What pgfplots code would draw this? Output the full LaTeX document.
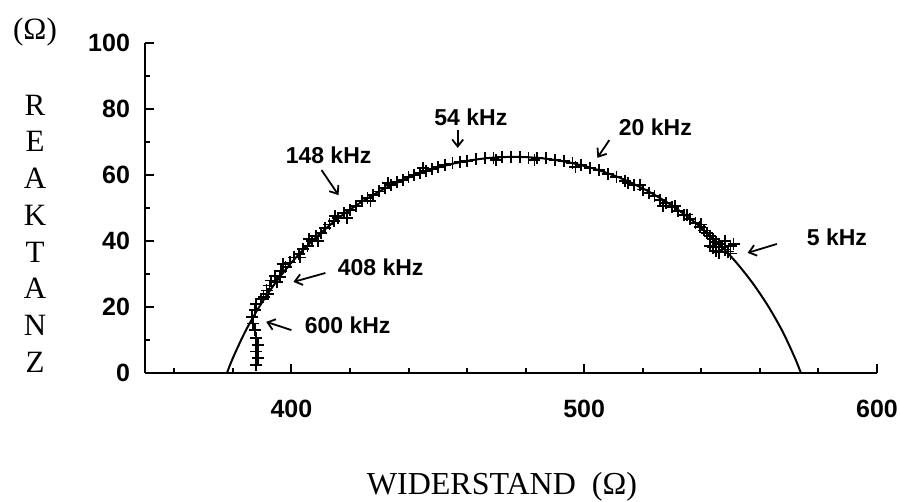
\documentclass[border=0pt]{standalone}
\usepackage{fontspec}
\setmainfont{Liberation Serif}
\setsansfont{Liberation Sans}
\usepackage{pgfplots}
\pgfplotsset{compat=1.18}
\usetikzlibrary{arrows.meta}
\newcommand{\annot}{\sffamily\bfseries\fontsize{11.5}{13}\selectfont}
\begin{document}
\begin{tikzpicture}
\begin{axis}[
  scale only axis, width=366pt, height=165pt,
  xmin=350, xmax=600, ymin=0, ymax=100,
  axis x line=bottom, axis y line=left,
  axis line style={-, line width=1.3pt},
  xtick={400,500,600}, minor xtick={360,380,420,440,460,480,520,540,560,580},
  ytick={0,20,40,60,80,100}, minor ytick={10,30,50,70,90},
  tick align=inside,
  major tick length=4.5pt, minor tick length=2.5pt,
  tick style={line width=1pt, black},
  ticklabel style={font=\sffamily\bfseries\fontsize{12.5}{14}\selectfont},
  /pgf/number format/assume math mode=true,
  xticklabel style={yshift=-10pt},
  yticklabel style={xshift=-4pt},
  clip=false,
]
\addplot[black, line width=1pt, smooth] coordinates {
(378.0,0) (379.9,4.30) (384.2,12.5) (389.2,20.30) (394.8,27.64) (401.0,34.45)
(407.9,40.70) (415.2,46.34) (423.0,51.30) (431.2,55.57) (439.7,59.11) (448.6,61.89)
(457.6,63.89) (466.8,65.10) (476,65.5) (485.2,65.10) (494.4,63.89) (503.4,61.89)
(512.3,59.11) (520.8,55.57) (529.0,51.30) (536.8,46.34) (544.1,40.70) (551.0,34.45)
(557.2,27.64) (562.8,20.30) (567.8,12.5) (572.1,4.30) (574.0,0)
};
\addplot[only marks, mark=+, mark size=3pt, mark options={line width=0.9pt, black}] coordinates {
(388,2.5) (388.5,4.5) (388,6.5) (388.5,8.5) (388,10.5) (387.5,13) (387,15) (386.5,17)
(387.5,19) (388,21) (389.5,22.5) (390.5,23) (391.5,25) (392.5,26.5) (393,28) (394.5,29.5)
(396,29) (396.5,31) (398,32) (399.5,33.5) (401,35) (402.5,36) (404,37.5) (405.5,38.5)
(407,40) (408.5,41.5) (410,42.5) (411.5,44) (413,45) (414.5,46) (416,47) (418,48.5)
(420,49.5) (422,50.5) (424,52) (426,53) (428,54) (430,55) (432,56) (434,57)
(436,57.8) (438,58.5) (440,59.3) (442,60) (444,60.6) (446,61.3) (448,61.8) (450,62.4)
(452.5,63) (455,63.5) (457.5,64) (460,64.3) (463,64.7) (466,65) (469,65.2) (472,65.4)
(475,65.5) (478,65.4) (481,65.3) (484,65.2) (487,65) (490,64.6) (493,64.2) (496,63.6)
(499,63) (502,62.2) (505,61.4) (508,60.4) (511,59.3) (514,58.2) (517,56.9) (520,55.6)
(522,54.6) (524,53.6) (526,52.5) (528,51.4) (530,50.2) (532,49) (534,47.8) (536,46.6)
(538,45.4) (539.5,44.3) (541,43.2) (542,42.4) (543,41.5) (544,40.5) (545,39.8) (546,39)
(547,38.2) (548,37.4) (549,36.8) (550,36.2) (544,38) (548,40) (546,36.5) (550,38.5)
(392,24) (395,27.5) (397,33) (403,35) (406,40.5) (409,40) (415,47.5) (419,47)
(427,52) (433,57.5) (445,62) (470,64.5) (483,64.6) (497,62.5) (515,57.5) (519,57)
(527,50.5) (531,50.5) (535,48) (540,45) (543,38.5) (545,37) (551,39)
};
\node[font=\annot] at (axis cs:461.3,77.6) {54 kHz};
\node[font=\annot] at (axis cs:524.3,74.5) {20 kHz};
\node[font=\annot] at (axis cs:586.3,41.2) {5 kHz};
\node[font=\annot] at (axis cs:412.7,66) {148 kHz};
\node[font=\annot] at (axis cs:430.5,32.1) {408 kHz};
\node[font=\annot] at (axis cs:419.2,14.5) {600 kHz};
\begin{scope}[line width=0.9pt, -{Straight Barb[length=3.5pt,width=5.5pt]}]
\draw (axis cs:456.8,73.6) -- (axis cs:456.8,68.2);
\draw (axis cs:508.6,70.6) -- (axis cs:504.5,65.2);
\draw (axis cs:565.8,39.1) -- (axis cs:555.8,36.4);
\draw (axis cs:410.3,61.5) -- (axis cs:416.1,53.9);
\draw (axis cs:411.6,30.3) -- (axis cs:400.7,27.6);
\draw (axis cs:400,13) -- (axis cs:391.4,15.5);
\end{scope}
\end{axis}
\node[font=\fontsize{15.5}{15.5}\selectfont] at (-55pt,170.5pt) {(Ω)};
\foreach \l [count=\i from 0] in {R,E,A,K,T,A,N,Z}
  \node[font=\fontsize{15.5}{15.5}\selectfont] at (-55pt,{134pt-\i*18.36pt}) {\l};
\node[font=\fontsize{16}{16}\selectfont] at (178.5pt,-57pt) {WIDERSTAND\ \ (Ω)};
\pgfresetboundingbox
\path[use as bounding box] (-72.5pt,-64.5pt) rectangle (377.5pt,186.5pt);
\end{tikzpicture}
\end{document}
